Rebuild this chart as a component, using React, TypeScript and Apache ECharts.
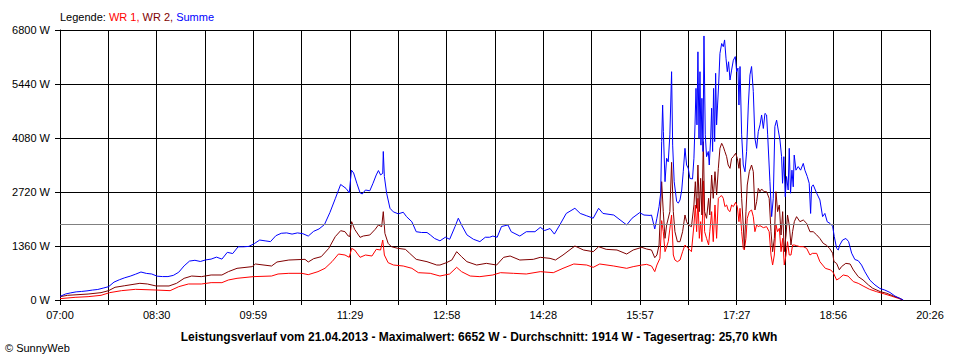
import React, { useEffect, useRef } from "react";
import * as echarts from "echarts";

// x tick labels (every second grid line carries a label)
const tickLabels = ["07:00", "08:30", "09:59", "11:29", "12:58", "14:28", "15:57", "17:27", "18:56", "20:26"];
const spanMinutes = 806; // 07:00 -> 20:26
const gridSteps = 18;
const yMax = 6800;
const yStep = 1360;
const averageW = 1914;

const titleText =
  "Leistungsverlauf vom 21.04.2013 - Maximalwert: 6652 W - Durchschnitt: 1914 W - Tagesertrag: 25,70 kWh";

// [minutes after 07:00, watts]
const wr1: [number, number][] = [
  [0, 34], [14, 67], [26, 84], [38, 118], [46, 185], [57, 235], [70, 269], [88, 252], [102, 235], [110, 336],
  [119, 403], [131, 403], [140, 437], [150, 437], [156, 504], [164, 546], [179, 588], [196, 604], [202, 655],
  [212, 672], [224, 672], [230, 638], [239, 714], [245.5, 798], [252, 965], [258, 1158], [264, 1133], [268, 1075],
  [270.2, 1301], [273, 1259], [278, 1075], [283, 1133], [289, 1108], [293, 1276], [297, 1259], [299, 1511],
  [300.5, 1133], [304, 940], [309, 881], [318, 856], [326, 798], [332, 688], [343, 672], [352, 604], [361, 655],
  [367.5, 823], [372, 714], [380, 604], [389, 588], [401, 630], [408, 688], [420, 672], [432, 655], [445, 714],
  [457, 688], [466, 798], [476, 907], [488, 881], [494, 823], [500, 907], [513, 856], [525, 798], [531, 840],
  [539, 881], [543.5, 898], [548, 856], [551, 714], [553, 881], [555.8, 1049], [557.4, 2000], [558.9, 1721],
  [560.5, 1217], [563.5, 1469], [566.6, 2141], [568.2, 1133], [569.7, 1007], [572, 965], [574.4, 1007],
  [576.8, 1217], [579, 1385], [582, 1301], [585, 1217], [587.3, 1889], [588.6, 2393], [589.8, 1721], [591, 2561],
  [592.3, 1553], [593.5, 1973], [594.7, 1469], [596, 3000], [597.2, 1721], [599, 1553], [600.9, 1385], [602, 1721],
  [603.7, 2225], [605.2, 1469], [606.8, 2393], [608.3, 1553], [609.9, 2561], [611.4, 2602], [613, 2628],
  [614.5, 2561], [616, 2351], [617.6, 2393], [619, 2267], [620.7, 2225], [622.2, 2393], [623.8, 2351],
  [625.9, 2460], [627.5, 2351], [629, 1973], [630, 2309], [631.5, 1721], [633, 1301], [634, 1259], [635.5, 1553],
  [636.7, 2057], [638.6, 2225], [640.7, 2267], [642.3, 2099], [643.8, 1721], [645.4, 1889], [646.9, 1847],
  [648.5, 1872], [651.6, 1822], [654.6, 1847], [657, 1721], [658.7, 1133], [660.2, 881], [661.8, 1133],
  [663.3, 1889], [664.8, 1721], [666.4, 1805], [668, 1217], [669.5, 1553], [671, 881], [672.6, 1133], [674, 1469],
  [675.6, 1133], [677.2, 1133], [678.7, 1385], [680.3, 1385], [682.4, 1368], [685.5, 1343], [688.6, 1343],
  [691.7, 1301], [694.8, 1133], [697, 1175], [701, 1175], [704, 965], [709, 798], [714, 756], [716.4, 688],
  [719.5, 504], [722, 546], [725.6, 630], [730, 604], [735, 462], [739.5, 420], [744, 353], [750, 269],
  [756.5, 210], [764, 151], [770, 101], [776.6, 42], [781, 0],
];

const wr2: [number, number][] = [
  [0, 84], [7, 118], [26, 150], [38, 185], [45, 235], [51, 320], [60, 360], [74, 420], [81, 403], [89, 353],
  [101, 353], [108, 420], [115, 546], [122, 604], [131, 588], [140, 630], [150, 630], [156, 714], [164, 798],
  [178, 840], [181, 907], [196, 856], [201, 957], [212, 1007], [227, 1024], [230, 957], [235, 1041], [242, 1091],
  [249, 1301], [255, 1595], [260, 1746], [264, 1721], [267, 1612], [268.5, 1600], [270.2, 1973], [273, 1780],
  [278, 1578], [281, 1612], [287, 1637], [292, 1780], [295, 1889], [298, 1847], [299.5, 2225], [301, 1679],
  [304, 1427], [307, 1343], [313, 1301], [320, 1276], [324, 1175], [330, 1024], [340, 965], [349, 881], [352, 881],
  [358, 940], [363, 1007], [367.5, 1217], [372, 1091], [377, 965], [386, 881], [395, 923], [404.5, 881], [411, 1075],
  [417, 1108], [426, 1007], [438.5, 1024], [445, 1075], [454, 1049], [459, 1007], [466, 1133], [477, 1360],
  [485, 1259], [494, 1217], [499, 1343], [506, 1276], [516, 1259], [525, 1158], [531, 1259], [539, 1326],
  [543.5, 1284], [548, 1259], [551, 1066], [553, 1133], [555, 1385], [557.4, 2980], [558.9, 2225], [560.5, 1553],
  [562, 1889], [565, 2225], [566.6, 3467], [568.2, 2225], [569.7, 1721], [572, 1469], [574.4, 1469], [576.8, 1721],
  [579, 2141], [580.5, 1973], [582, 1889], [585, 1847], [587.3, 2393], [588.6, 2980], [589.8, 2309], [591, 3400],
  [592.3, 2225], [593.5, 3064], [594.7, 2141], [596, 3988], [597.2, 2225], [599, 2057], [600.9, 2561], [602, 2141],
  [603.7, 3148], [605.2, 2561], [606.8, 3232], [608.3, 2644], [609.9, 3316], [611.4, 3820], [613, 3946],
  [614.5, 3862], [616, 3736], [617.6, 3610], [619, 3400], [620.7, 3316], [622.2, 3568], [623.8, 3610],
  [625.9, 3694], [627.5, 3568], [629, 3316], [630, 3568], [631.5, 2561], [633, 1889], [634, 1301], [635.5, 2225],
  [636.7, 2896], [638.6, 3232], [640.7, 3400], [642.3, 3232], [643.8, 2267], [645.4, 2477], [646.9, 2812],
  [648.5, 2728], [650, 2796], [652.2, 2728], [654.6, 2728], [657, 2561], [658.7, 1721], [660.2, 1217],
  [661.8, 1553], [663.3, 2728], [664.8, 2225], [666.4, 2393], [668, 1637], [669.5, 2225], [671, 1217],
  [672.6, 1637], [674, 2141], [675.6, 1889], [677.2, 1385], [678.7, 1721], [680.3, 1973], [682.4, 2099],
  [685.5, 1973], [688.6, 2015], [691.7, 1931], [694.8, 1720], [697.8, 1720], [701, 1640], [704, 1550], [707, 1430],
  [710, 1380], [713, 1300], [715.8, 1180], [717, 970], [719.5, 920], [722, 760], [724, 840], [728, 923], [732, 907],
  [735, 756], [739.5, 588], [744, 504], [749, 378], [753, 294], [760, 210], [766, 168], [772, 101], [778, 42],
  [781, 0],
];

const summe: [number, number][] = [
  [0, 90], [5, 150], [10, 180], [15, 205], [20, 215], [25, 230], [30, 250], [35, 265], [40, 300], [45, 335],
  [50, 450], [55, 510], [60, 560], [65, 600], [70, 650], [75, 705], [80, 670], [85, 655], [90, 600], [95, 590],
  [100, 590], [105, 620], [110, 700], [115, 860], [120, 980], [125, 1000], [130, 970], [135, 1010], [140, 1030],
  [145, 1080], [150, 1030], [155, 1200], [160, 1170], [165, 1340], [170, 1340], [175, 1350], [180, 1420],
  [185, 1510], [190, 1490], [195, 1470], [200, 1620], [205, 1680], [210, 1690], [215, 1660], [220, 1690],
  [225, 1670], [230, 1610], [235, 1730], [240, 1790], [245, 1900], [250, 2200], [255, 2550], [260, 2910],
  [265, 2810], [268, 2700], [270, 3270], [272, 3200], [275, 2940], [278, 2700], [280, 2670], [283, 2770],
  [287, 2750], [290, 2940], [293, 3150], [295, 3260], [297, 3150], [299, 3190], [299.5, 3740], [300.5, 3110],
  [302.6, 2690], [305.7, 2310], [308.8, 2220], [313.4, 2170], [318, 2210], [321, 2100], [326, 1970], [330, 1720],
  [335, 1700], [340, 1700], [343, 1640], [347, 1550], [352, 1490], [357, 1580], [361, 1530], [366, 1850],
  [369, 2060], [372, 1890], [377, 1640], [383, 1530], [389, 1470], [394, 1580], [398, 1580], [401, 1610],
  [405, 1580], [409, 1850], [415, 1890], [418, 1720], [426, 1610], [432, 1720], [440, 1720], [445, 1830],
  [449, 1750], [454, 1800], [458, 1660], [463, 1890], [469, 2180], [477, 2310], [482, 2180], [488, 2120],
  [494, 2060], [499, 2310], [503, 2180], [513, 2140], [525, 1890], [530, 2060], [537, 2200], [541, 2140],
  [546.6, 2130], [548, 2140], [551, 1790], [553, 2060], [555, 2350], [556.5, 2690], [557.4, 3990], [558.3, 4910],
  [559, 4240], [560.5, 2980], [562, 3570], [563.5, 3480], [565, 4160], [566.6, 5750], [567.6, 3900], [569, 2980],
  [571.3, 2480], [572.8, 2440], [574.4, 2520], [576, 2770], [577.4, 3230], [579, 3820], [580.5, 3400], [582, 3320],
  [583.6, 3060], [586, 3050], [587.3, 3570], [588.3, 4410], [589.2, 5330], [590.1, 4410], [591, 6250], [592, 4070],
  [592.9, 5750], [593.8, 3900], [594.7, 5080], [595.7, 3740], [596.6, 6650], [597.8, 4160], [599, 3610],
  [600.6, 3740], [601.5, 3400], [602.8, 4070], [603.7, 4830], [604.6, 3740], [605.5, 5330], [606.5, 3990],
  [607.4, 5710], [608.3, 4410], [609.2, 4910], [610.2, 5420], [611.4, 6210], [613, 6460], [614.5, 6380],
  [615.7, 6550], [617, 6090], [618.2, 5750], [619.4, 6000], [620.7, 5540], [622.2, 5790], [623.8, 6040],
  [625.6, 6130], [626.9, 5750], [628.1, 5840], [629, 4910], [630, 5880], [631.5, 4160], [633, 3400], [634.6, 3230],
  [636.1, 3740], [637.7, 4910], [639.2, 5670], [640.7, 5880], [642.3, 5250], [643.8, 4070], [645.4, 3820],
  [646.9, 4240], [648.5, 4410], [650, 4660], [651.6, 4320], [653.1, 4700], [654.6, 4660], [655.6, 4160],
  [657.7, 2980], [659.3, 2100], [660.8, 2560], [662.3, 4370], [663.9, 4530], [665.4, 4280], [667, 4030],
  [668.5, 3610], [669.4, 2940], [670.6, 3610], [671.9, 2600], [673.1, 3110], [674.6, 2770], [675.6, 3820],
  [676.8, 2690], [678.1, 3270], [679.3, 2850], [680.2, 3650], [681.8, 3270], [683.9, 3360], [686.1, 3270],
  [688.6, 3440], [690.1, 3270], [692.3, 3110], [694.1, 2940], [695.4, 2180], [696.3, 2850], [697.8, 2900],
  [701, 2690], [704, 2520], [706.5, 2100], [708.6, 2180], [710.8, 1970], [713.3, 1930], [715.8, 1860],
  [717.3, 1600], [719.5, 1300], [721, 1260], [722.5, 1390], [725, 1510], [728.1, 1550], [730.6, 1470],
  [733.4, 1180], [736.4, 1020], [739.5, 990], [742.6, 880], [745.7, 710], [750.3, 500], [755, 380], [759.6, 290],
  [764.2, 250], [768.9, 190], [773.5, 100], [778.1, 40], [781.2, 0],
];

const FONT = '"Liberation Sans", Arial, sans-serif';

export default function App() {
  const ref = useRef<HTMLDivElement>(null);

  useEffect(() => {
    document.body.style.margin = "0";
    const chart = echarts.init(ref.current!, null, { renderer: "svg" });
    const unit = spanMinutes / gridSteps;
    const toXY = (pts: [number, number][]) => pts.map(([m, w]) => [m / unit, w]);
    const lineSeries = (name: string, color: string, pts: [number, number][], extra: any = {}) => ({
      name,
      type: "line",
      data: toXY(pts),
      symbol: "none",
      showSymbol: false,
      lineStyle: { color, width: 1 },
      itemStyle: { color },
      ...extra,
    });

    chart.setOption({
      animation: false,
      backgroundColor: "#ffffff",
      grid: { left: 60, right: 30, top: 30, bottom: 60, show: false },
      xAxis: {
        type: "value",
        min: 0,
        max: gridSteps,
        interval: 1,
        axisLine: { show: true, lineStyle: { color: "#000", width: 1 } },
        axisTick: { show: true, length: 5, lineStyle: { color: "#000", width: 1 } },
        axisLabel: {
          color: "#000",
          fontSize: 11,
          fontFamily: FONT,
          margin: 9,
          showMinLabel: true,
          showMaxLabel: true,
          formatter: (v: number) => {
            const i = Math.round(v);
            return i % 2 === 0 ? tickLabels[i / 2] ?? "" : "";
          },
        },
        splitLine: { show: true, lineStyle: { color: "#000", width: 1 } },
      },
      yAxis: {
        type: "value",
        min: 0,
        max: yMax,
        interval: yStep,
        axisLine: { show: true, lineStyle: { color: "#000", width: 1 } },
        axisTick: { show: true, length: 5, lineStyle: { color: "#000", width: 1 } },
        axisLabel: {
          color: "#000",
          fontSize: 11,
          fontFamily: FONT,
          margin: 10,
          formatter: (v: number) => `${v} W`,
        },
        splitLine: { show: true, lineStyle: { color: "#000", width: 1 } },
      },
      series: [
        lineSeries("WR 1", "#ff0000", wr1),
        lineSeries("WR 2", "#800000", wr2),
        lineSeries("Summe", "#0000ff", summe, {
          markLine: {
            silent: true,
            symbol: ["none", "none"],
            label: { show: false },
            lineStyle: { color: "#808080", width: 1, type: "solid" },
            data: [{ yAxis: averageW }],
          },
        }),
      ],
      graphic: [
        {
          type: "text",
          left: 60,
          top: 11,
          style: {
            text: "{k|Legende: }{a|WR 1, }{b|WR 2, }{c|Summe}",
            font: `11px ${FONT}`,
            rich: {
              k: { fill: "#000", fontSize: 11, fontFamily: FONT },
              a: { fill: "#ff0000", fontSize: 11, fontFamily: FONT },
              b: { fill: "#800000", fontSize: 11, fontFamily: FONT },
              c: { fill: "#0000ff", fontSize: 11, fontFamily: FONT },
            },
          },
        },
        {
          type: "text",
          x: 479,
          y: 337,
          style: {
            text: titleText,
            font: `bold 12px ${FONT}`,
            fill: "#000",
            textAlign: "center",
            textVerticalAlign: "middle",
          },
        },
        {
          type: "text",
          x: 5,
          y: 348,
          style: {
            text: "© SunnyWeb",
            font: `11px ${FONT}`,
            fill: "#000",
            textAlign: "left",
            textVerticalAlign: "middle",
          },
        },
      ],
    });

    return () => chart.dispose();
  }, []);

  return <div ref={ref} style={{ width: 960, height: 360 }} />;
}
